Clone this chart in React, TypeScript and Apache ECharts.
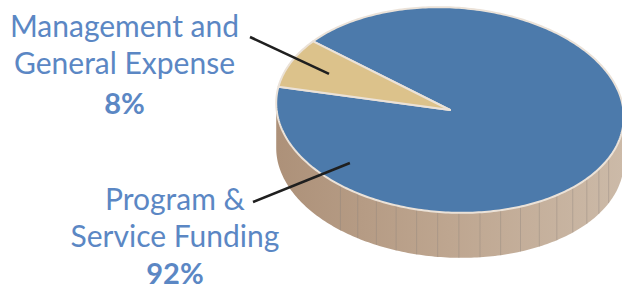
import React, { useEffect, useRef } from "react";
import * as echarts from "echarts";

// ---- data ----
const categories = ["Program &\nService Funding", "Management and\nGeneral Expense"];
const values = [92, 8];
const percentLabels = ["92%", "8%"];
const sliceColors = ["#4c7aab", "#dcc28b"];

// ---- layout (positions / styles) ----
const W = 622;
const H = 288;
const PIE = { cx: 450, cy: 110, rx: 174, ry: 102.5, tilt: 3.5, depth: 45, start: 216 };
const LABELS = [
  { x: 175, y: 179, pctY: 272, lineX: 253, lineY: 202, anchorAngle: 134 as number | null, anchorR: 0.8 },
  { x: 124.5, y: 6, pctY: 102, lineX: 250, lineY: 37, anchorAngle: null as number | null, anchorR: 0.76 },
];
const TEXT_COLOR = "#5b87c4";
const FONT = "Lato, 'Open Sans', sans-serif";

function pt(phiDeg: number, r = 1, dz = 0): number[] {
  const p = (phiDeg * Math.PI) / 180;
  const t = (PIE.tilt * Math.PI) / 180;
  const u = r * PIE.rx * Math.cos(p);
  const v = r * PIE.ry * Math.sin(p);
  return [PIE.cx + u * Math.cos(t) - v * Math.sin(t), PIE.cy + u * Math.sin(t) + v * Math.cos(t) + dz];
}

function sliceAngles(i: number, val: number) {
  const total = values.reduce((a, b) => a + b, 0);
  let acc = 0;
  for (let j = 0; j < i; j++) acc += values[j];
  const a0 = PIE.start + (acc / total) * 360;
  const a1 = PIE.start + ((acc + val) / total) * 360;
  return [a0, a1];
}

export default function App() {
  const ref = useRef<HTMLDivElement>(null);
  useEffect(() => {
    if (!ref.current) return;
    const chart = echarts.init(ref.current, undefined, { renderer: "svg" });
    const data = values.map((v, i) => ({ name: categories[i], value: v }));

    const sideSeries: any = {
      type: "custom",
      coordinateSystem: "none",
      silent: true,
      z: 1,
      data: [0],
      renderItem: () => {
        const t = (PIE.tilt * Math.PI) / 180;
        const phi0 = (Math.atan((-PIE.ry * Math.tan(t)) / PIE.rx) * 180) / Math.PI;
        const topPts: number[][] = [];
        const botPts: number[][] = [];
        for (let a = phi0; a <= phi0 + 180.001; a += 1) {
          topPts.push(pt(a));
          botPts.push(pt(a, 1, PIE.depth));
        }
        const poly = topPts.concat(botPts.reverse());
        const children: any[] = [
          {
            type: "polygon",
            shape: { points: poly },
            style: {
              fill: new echarts.graphic.LinearGradient(0, 0, 1, 0, [
                { offset: 0, color: "#ad9179" },
                { offset: 0.5, color: "#bea690" },
                { offset: 1, color: "#ccbaa8" },
              ]),
            },
          },
        ];
        for (let a = 22; a <= 128; a += 7) {
          const p1 = pt(a);
          const p2 = pt(a, 1, PIE.depth);
          children.push({
            type: "line",
            shape: { x1: p1[0], y1: p1[1], x2: p2[0], y2: p2[1] },
            style: { stroke: "#8f857c", lineWidth: 1, opacity: 0.4 },
          });
        }
        return { type: "group", children };
      },
    };

    const topSeries: any = {
      type: "custom",
      coordinateSystem: "none",
      silent: true,
      z: 2,
      data,
      renderItem: (params: any, api: any) => {
        const i = params.dataIndex;
        const [a0, a1] = sliceAngles(i, api.value(0));
        const pts: number[][] = [pt(0, 0)];
        const steps = Math.max(4, Math.ceil(a1 - a0));
        for (let k = 0; k <= steps; k++) pts.push(pt(a0 + ((a1 - a0) * k) / steps));
        return {
          type: "polygon",
          shape: { points: pts },
          style: { fill: sliceColors[i], stroke: "#ebe2d8", lineWidth: 2, lineJoin: "round" },
        };
      },
    };

    const labelSeries: any = {
      type: "custom",
      coordinateSystem: "none",
      silent: true,
      z: 3,
      data,
      renderItem: (params: any, api: any) => {
        const i = params.dataIndex;
        const L = LABELS[i];
        const [a0, a1] = sliceAngles(i, api.value(0));
        const ang = L.anchorAngle != null ? L.anchorAngle : (a0 + a1) / 2;
        const anchor = pt(ang, L.anchorR);
        return {
          type: "group",
          children: [
            {
              type: "line",
              shape: { x1: L.lineX, y1: L.lineY, x2: anchor[0], y2: anchor[1] },
              style: { stroke: "#1f1f1f", lineWidth: 2.6 },
            },
            {
              type: "text",
              style: {
                text: categories[i],
                x: L.x,
                y: L.y,
                align: "center",
                verticalAlign: "top",
                fill: TEXT_COLOR,
                fontSize: 30,
                lineHeight: 37,
                fontFamily: FONT,
              },
            },
            {
              type: "text",
              style: {
                text: percentLabels[i],
                x: L.x,
                y: L.pctY,
                align: "center",
                verticalAlign: "middle",
                fill: TEXT_COLOR,
                fontSize: 29,
                fontWeight: "bold",
                fontFamily: FONT,
              },
            },
          ],
        };
      },
    };

    chart.setOption({
      animation: false,
      backgroundColor: "#ffffff",
      series: [sideSeries, topSeries, labelSeries],
    });
    return () => chart.dispose();
  }, []);

  return (
    <div
      ref={ref}
      style={{ width: W, height: H, position: "absolute", left: 0, top: 0 }}
    />
  );
}
